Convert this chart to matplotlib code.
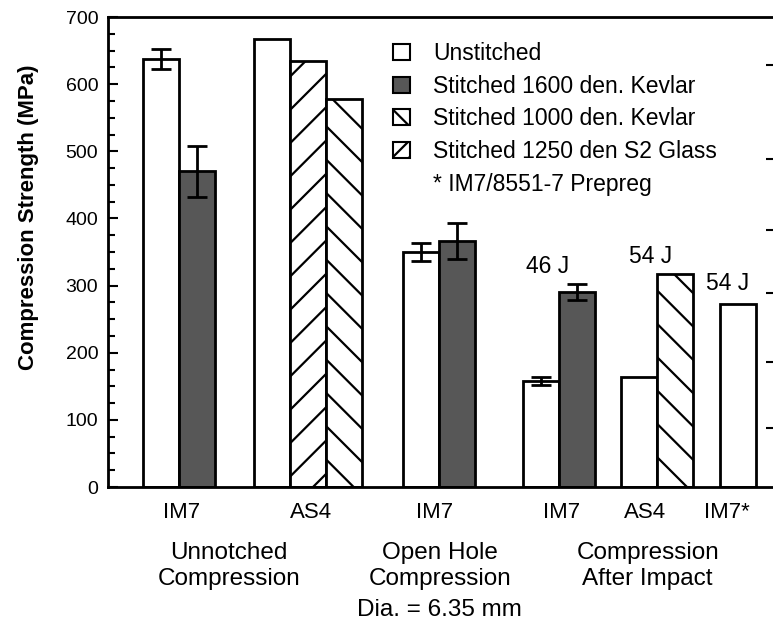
import numpy as np
import matplotlib.pyplot as plt
from matplotlib.patches import Patch
from matplotlib.ticker import MultipleLocator
from matplotlib.transforms import blended_transform_factory

plt.rcParams['font.family'] = ['Liberation Sans', 'DejaVu Sans']
plt.rcParams['hatch.linewidth'] = 1.6

nan = np.nan
materials = ['IM7', 'AS4', 'IM7', 'IM7', 'AS4', 'IM7*']
test_lines = [['Unnotched', 'Compression'],
              ['Open Hole', 'Compression', 'Dia. = 6.35 mm'],
              ['Compression', 'After Impact']]
series_names = ['Unstitched', 'Stitched 1600 den. Kevlar',
                'Stitched 1000 den. Kevlar', 'Stitched 1250 den S2 Glass']
note = '* IM7/8551-7 Prepreg'

unstitched = [638, 667, 350, 158, 164, 273]
unstitched_err = [15, nan, 14, 6, nan, nan]
kevlar1600 = [470, nan, 366, 290, nan, nan]
kevlar1600_err = [38, nan, 27, 12, nan, nan]
kevlar1000 = [nan, 578, nan, nan, 317, nan]
s2glass = [nan, 634, nan, nan, nan, nan]

impact_labels = ['46 J', '54 J', '54 J']
impact_x = [12.22, 15.08, 17.22]
impact_y = [319, 334, 293]

right_ticks = [88, 186, 289, 383, 489, 628]

# layout (x in bar-width units)
group_left = np.array([0.96, 4.06, 8.2, 11.54, 14.25, 17.0])
label_x = [2.03, 5.64, 9.06, 12.61, 14.92, 17.19]
test_x = [3.36, 9.22, 14.99]
line_base_px = [559, 585, 616]

W, H = 773, 622
fig = plt.figure(figsize=(W / 100, H / 100), dpi=100)
ax = fig.add_axes([108 / W, 1 - 487 / H, 668 / W, 470 / H])

stipple = '#575757'
styles = {
    'Unstitched': dict(facecolor='white'),
    'Stitched 1600 den. Kevlar': dict(facecolor=stipple),
    'Stitched 1000 den. Kevlar': dict(facecolor='white', hatch='\\'),
    'Stitched 1250 den S2 Glass': dict(facecolor='white', hatch='/'),
}
# legend squares are small, so a denser hatch keeps a line visible
legend_hatch = {'Stitched 1000 den. Kevlar': '\\\\', 'Stitched 1250 den S2 Glass': '//'}

# plotting order inside a group
plot_order = [('Unstitched', unstitched, unstitched_err),
              ('Stitched 1600 den. Kevlar', kevlar1600, kevlar1600_err),
              ('Stitched 1250 den S2 Glass', s2glass, None),
              ('Stitched 1000 den. Kevlar', kevlar1000, None)]

slot = np.zeros(len(materials))
for name, vals, errs in plot_order:
    vals = np.array(vals, dtype=float)
    have = ~np.isnan(vals)
    x = group_left + slot + 0.5
    ax.bar(x[have], vals[have], width=1.0, edgecolor='black', linewidth=2.0,
           zorder=2, **styles[name])
    if errs is not None:
        e = np.array(errs, dtype=float)
        ok = have & ~np.isnan(e)
        ax.errorbar(x[ok], vals[ok], yerr=e[ok], fmt='none', ecolor='black',
                    elinewidth=2, capsize=7, capthick=2, zorder=3)
    slot += have

ax.set_xlim(0, 668 / 36)
ax.set_ylim(0, 700)
ax.yaxis.set_major_locator(MultipleLocator(100))
ax.yaxis.set_minor_locator(MultipleLocator(25))
ax.tick_params(axis='y', which='both', direction='in', left=True, right=False,
               width=1.5, labelsize=14, pad=7)
ax.tick_params(axis='y', which='major', length=7)
ax.tick_params(axis='y', which='minor', length=5)
ax.set_xticks(label_x, materials)
ax.tick_params(axis='x', length=0, labelsize=16, pad=11)
for s in ax.spines.values():
    s.set_linewidth(2)

ax2 = ax.twinx()
ax2.set_ylim(0, 700)
ax2.set_yticks(right_ticks)
ax2.set_yticklabels([])
ax2.tick_params(axis='y', direction='in', length=7, width=1.5)

ax.set_ylabel('Compression Strength (MPa)', fontsize=16, fontweight='bold')
ax.yaxis.set_label_coords(-0.103, 0.573)

for x, y, t in zip(impact_x, impact_y, impact_labels):
    ax.text(x, y, t, ha='center', va='baseline', fontsize=16.5)

tr = blended_transform_factory(ax.transData, fig.transFigure)
for x, lines in zip(test_x, test_lines):
    for k, line in enumerate(lines):
        ax.text(x, 1 - line_base_px[k] / H, line, transform=tr, ha='center',
                va='baseline', fontsize=17.5, clip_on=False)

handles = []
for n in series_names:
    st = dict(styles[n])
    if n in legend_hatch:
        st['hatch'] = legend_hatch[n]
    handles.append(Patch(edgecolor='black', linewidth=1.5, **st))
handles.append(Patch(facecolor='none', edgecolor='none'))
ax.legend(handles, series_names + [note], loc='upper left',
          bbox_to_anchor=(393 / W, 1 - 42 / H), bbox_transform=fig.transFigure,
          frameon=False, fontsize=16.5, borderpad=0, borderaxespad=0,
          handlelength=0.75, handleheight=0.7, handletextpad=1.0,
          labelspacing=0.42)

fig.savefig('out.png', dpi=100)
